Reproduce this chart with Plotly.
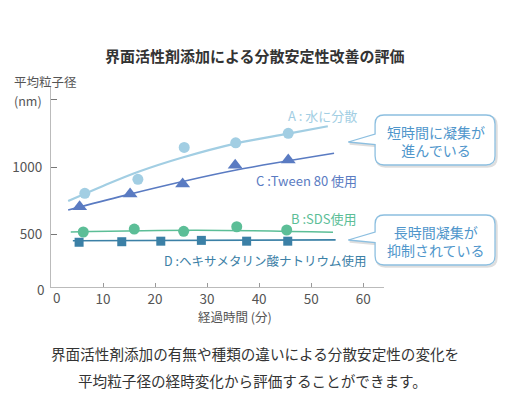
import plotly.graph_objects as go

# ---------------- data ----------------
# A: dispersed in water
a_time = [6.5, 16.7, 25.6, 35.5, 45.6]
a_size = [807, 911, 1148, 1182, 1252]
a_fit_time = [3.3, 10, 16.8, 25.1, 35.6, 45.6, 53.2]
a_fit_size = [750, 862, 967, 1071, 1178, 1250, 1305]

# C: Tween 80
c_time = [5.5, 15.2, 25.3, 35.4, 45.6]
c_size = [708, 802, 876, 1015, 1054]
c_fit_time = [3.3, 14, 25.1, 35.6, 54.4]
c_fit_size = [683, 790, 893, 980, 1104]

# B: SDS
b_time = [6.2, 16.0, 25.5, 35.7, 45.3]
b_size = [520, 542, 525, 559, 535]
b_fit_time = [3.8, 28, 54.2]
b_fit_size = [520, 533, 518]

# D: sodium hexametaphosphate
d_time = [5.4, 13.6, 21.1, 28.9, 37.6, 45.5]
d_size = [444, 448, 452, 458, 452, 452]
d_fit_time = [4.2, 54.7]
d_fit_size = [455, 462]

x_tickvals = [10, 20, 30, 40, 50, 60]
y_tickvals = [500, 1000]
y_unlabelled_tickvals = [1500]
zero_label = "0"

series_labels = ["A : 水に分散", "C :Tween 80 使用", "B :SDS使用", "D :ヘキサメタリン酸ナトリウム使用"]
callout_texts = ["短時間に凝集が<br>進んでいる", "長時間凝集が<br>抑制されている"]
title_text = "界面活性剤添加による分散安定性改善の評価"
y_title = ["平均粒子径", "(nm)"]
x_title = "経過時間 (分)"
caption = ["界面活性剤添加の有無や種類の違いによる分散安定性の変化を",
           "平均粒子径の経時変化から評価することができます。"]

# ---------------- style ----------------
COL_A = "#a2cee3"
COL_C = "#5a7bc2"
COL_B = "#5cbe97"
COL_D = "#3b80a6"
COL_CALL = "#8cbfe0"
COL_CALL_TXT = "#4f96cb"
FONT = "Noto Sans CJK JP"

W, H = 510, 395
L, R, T, B = 48, 384, 87, 287


def px(x):
    return (x - L) / (R - L)


def py(y):
    return (B - y) / (B - T)


fig = go.Figure()

# fit lines
for xs, ys, col, w in [(a_fit_time, a_fit_size, COL_A, 2.2),
                       (c_fit_time, c_fit_size, COL_C, 1.6),
                       (b_fit_time, b_fit_size, COL_B, 1.6),
                       (d_fit_time, d_fit_size, COL_D, 1.6)]:
    fig.add_trace(go.Scatter(x=xs, y=ys, mode="lines",
                             line=dict(color=col, width=w, shape="spline"),
                             hoverinfo="skip", showlegend=False))

# markers
fig.add_trace(go.Scatter(x=a_time, y=a_size, mode="markers",
                         marker=dict(symbol="circle", size=11, color=COL_A), showlegend=False))
fig.add_trace(go.Scatter(x=c_time, y=c_size, mode="markers",
                         marker=dict(symbol="triangle-up", size=13, color=COL_C), showlegend=False))
fig.add_trace(go.Scatter(x=b_time, y=b_size, mode="markers",
                         marker=dict(symbol="circle", size=11, color=COL_B), showlegend=False))
fig.add_trace(go.Scatter(x=d_time, y=d_size, mode="markers",
                         marker=dict(symbol="square", size=9, color=COL_D), showlegend=False))

annotations = []


def ann(text, x, y, xanchor="center", size=13, color="#555", bold=False, align="center"):
    annotations.append(dict(text=text, x=px(x), y=py(y), xref="paper", yref="paper",
                            xanchor=xanchor, yanchor="middle", showarrow=False, align=align,
                            borderpad=0,
                            font=dict(family=FONT, size=size, color=color,
                                      weight=700 if bold else 400)))


ann(title_text, 254, 55, size=15, color="#333", bold=True)
ann(y_title[0], 10, 81, xanchor="left", size=12.5)
ann(y_title[1], 10, 100.5, xanchor="left", size=12.5)
ann(x_title, 234, 316, size=12.5)
ann(caption[0], 254, 353, size=14.6, color="#333")
ann(caption[1], 251, 380, size=14.6, color="#333")
ann(zero_label, 43, 289, xanchor="right", size=13.5)
ann(zero_label, 54, 297, size=13.5)

ann(series_labels[0], 358, 115, xanchor="right", size=13, color=COL_A)
ann(series_labels[1], 358, 180, xanchor="right", size=13, color=COL_C)
ann(series_labels[2], 358, 219, xanchor="right", size=13, color=COL_B)
ann(series_labels[3], 367, 260, xanchor="right", size=12.5, color=COL_D)


def callout_path(x0, y0, x1, y1, r, tip, a, b, dx=0, dy=0):
    X = lambda v: px(v + dx)
    Y = lambda v: py(v + dy)
    p = f"M {X(x0 + r)},{Y(y0)} L {X(x1 - r)},{Y(y0)} Q {X(x1)},{Y(y0)} {X(x1)},{Y(y0 + r)} "
    p += f"L {X(x1)},{Y(y1 - r)} Q {X(x1)},{Y(y1)} {X(x1 - r)},{Y(y1)} "
    p += f"L {X(x0 + r)},{Y(y1)} Q {X(x0)},{Y(y1)} {X(x0)},{Y(y1 - r)} "
    p += f"L {X(x0)},{Y(b)} L {X(tip[0])},{Y(tip[1])} L {X(x0)},{Y(a)} "
    p += f"L {X(x0)},{Y(y0 + r)} Q {X(x0)},{Y(y0)} {X(x0 + r)},{Y(y0)} Z"
    return p


shapes = []
for (y0, y1, tipy, a, b), txt in zip([(115, 165, 142, 134, 144.5), (215, 265, 240, 232, 242.5)],
                                     callout_texts):
    shapes.append(dict(type="path", xref="paper", yref="paper", layer="above",
                       path=callout_path(375, y0, 496, y1, 9, (348, tipy), a, b, 1.5, 1.5),
                       line=dict(color="rgba(0,0,0,0.13)", width=2.5), fillcolor="rgba(0,0,0,0)"))
    shapes.append(dict(type="path", xref="paper", yref="paper", layer="above",
                       path=callout_path(375, y0, 496, y1, 9, (348, tipy), a, b),
                       line=dict(color=COL_CALL, width=1.3), fillcolor="white"))
    annotations.append(dict(text=txt, x=px(436), y=py((y0 + y1) / 2 + 0.5), xref="paper", yref="paper",
                            xanchor="center", yanchor="middle", showarrow=False, align="center",
                            font=dict(family=FONT, size=14, color=COL_CALL_TXT)))

fig.update_layout(
    width=W, height=H, autosize=False,
    margin=dict(l=L, r=W - R, t=T, b=H - B, pad=0),
    paper_bgcolor="white", plot_bgcolor="white",
    font=dict(family=FONT, color="#555", size=14),
    showlegend=False,
    xaxis=dict(range=[0, 64], tickvals=x_tickvals, ticks="inside", ticklen=4, tickcolor="#999",
               showline=True, linecolor="#bbb", linewidth=1, showgrid=False, zeroline=False,
               ticklabelstandoff=0,
               tickfont=dict(family=FONT, size=13.5, color="#555"), fixedrange=True),
    yaxis=dict(range=[112, 1596], tickvals=y_tickvals, ticks="inside",
               ticklen=6, tickcolor="#777", showline=True, linecolor="#bbb", linewidth=1,
               showgrid=False, zeroline=False, ticklabelstandoff=5,
               minor=dict(tickvals=y_unlabelled_tickvals, ticks="inside", ticklen=6,
                          tickcolor="#777", showgrid=False),
               tickfont=dict(family=FONT, size=13.5, color="#555"), fixedrange=True),
    annotations=annotations,
    shapes=shapes,
)

fig.write_html("out.html", config={"displayModeBar": False},
               post_script="document.body.style.margin='0';document.body.style.overflow='hidden';")
